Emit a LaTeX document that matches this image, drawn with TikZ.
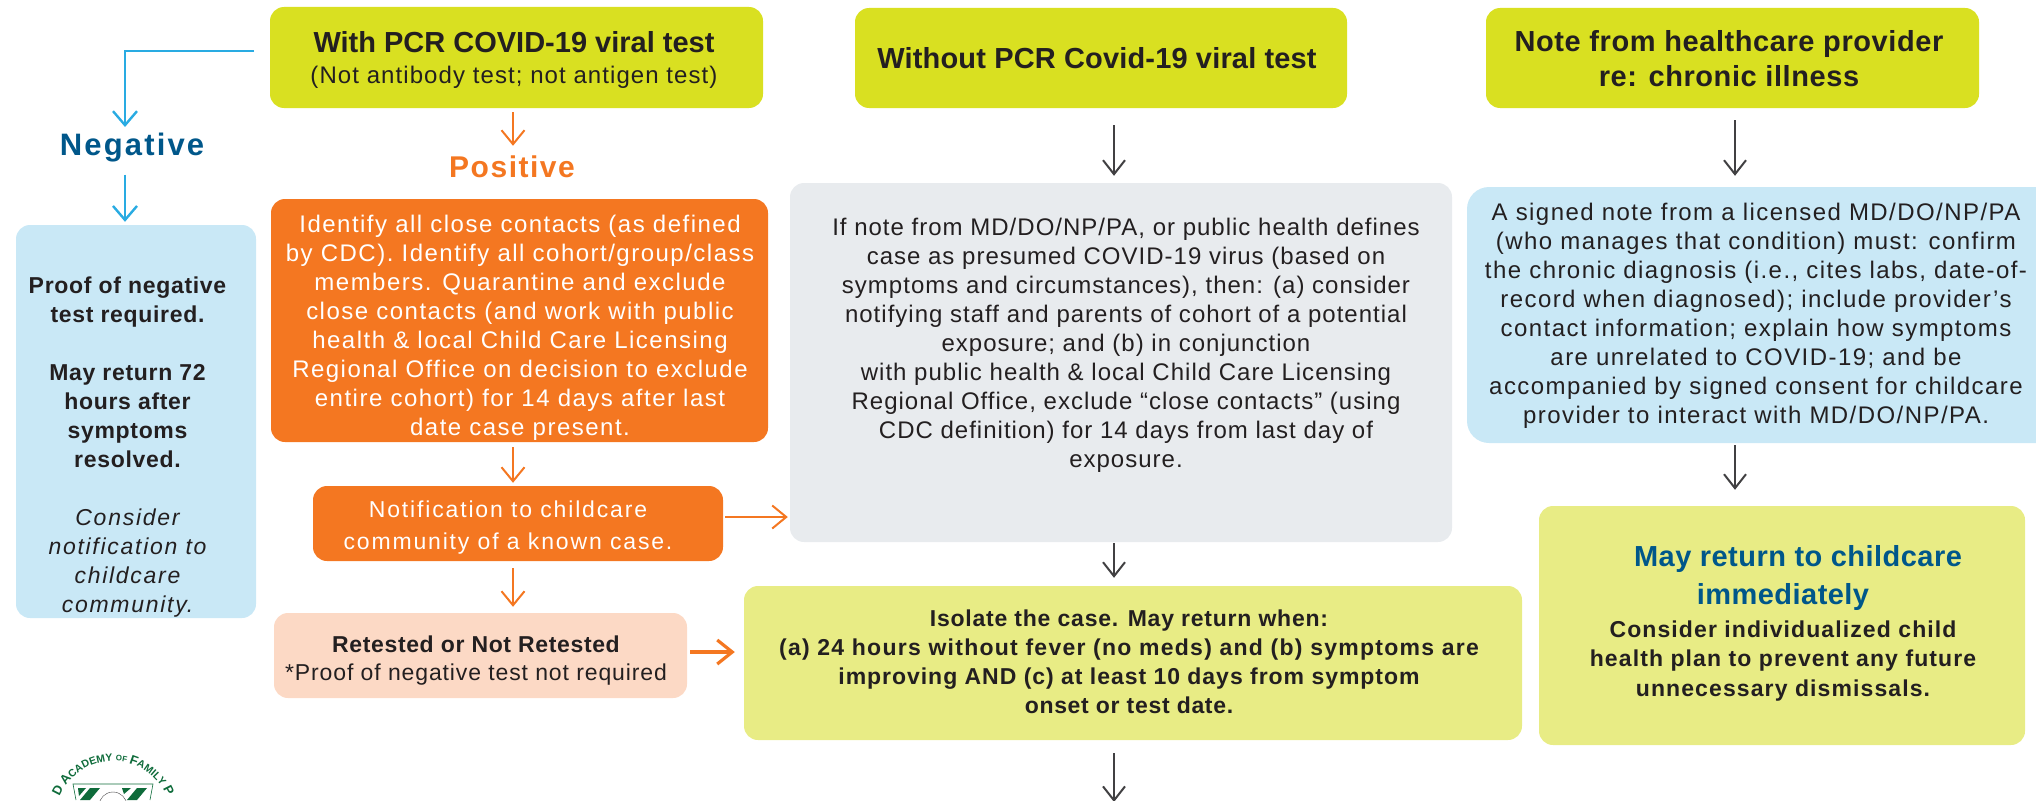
\documentclass[tikz,border=0pt]{standalone}
\usepackage{fontspec}
\setmainfont{Liberation Sans}
\usetikzlibrary{arrows.meta,decorations.text}
\definecolor{lime}{HTML}{D9E021}
\definecolor{palelime}{HTML}{E8EC85}
\definecolor{paleblue}{HTML}{C9E8F6}
\definecolor{palegrey}{HTML}{E8EBEE}
\definecolor{orng}{HTML}{F47721}
\definecolor{peach}{HTML}{FCD9C5}
\definecolor{ink}{HTML}{231F20}
\definecolor{arrowgrey}{HTML}{414042}
\definecolor{skyline}{HTML}{29ABE2}
\definecolor{navy}{HTML}{00578A}
\definecolor{logogreen}{HTML}{0E6B3A}
\newcommand{\fsz}[2]{\fontsize{#1}{#2}\selectfont}
\newcommand{\lsp}[1]{\addfontfeature{LetterSpace=#1}}
\newcommand{\sealA}{\fsz{13}{14}\bfseries\color{logogreen}}
\newcommand{\sealB}{\fsz{10.5}{12}\bfseries\color{logogreen}}
\newcommand{\sealC}{\fsz{8}{10}\bfseries\color{logogreen}}
\tikzset{
  panel/.style={rounded corners=14pt,inner sep=0pt,draw=none},
  txt/.style={inner sep=0pt,align=center,text=ink},
  body/.style={txt,font=\fsz{24}{29}\lsp{4.2}},
  boldbody/.style={txt,font=\fsz{23}{29}\bfseries\lsp{3}},
  head/.style={txt,font=\fsz{29}{35}\bfseries},
  darrow/.style={draw=arrowgrey,line width=2pt,-{Straight Barb[length=14pt,width=22pt,line width=2pt]}},
  oarrow/.style={draw=orng,line width=2pt,-{Straight Barb[length=14pt,width=23pt,line width=2pt]}},
  barrow/.style={draw=skyline,line width=2.4pt,-{Straight Barb[length=14pt,width=24pt,line width=2.4pt]}},
}
\begin{document}
\begin{tikzpicture}[x=1pt,y=-1pt]
\useasboundingbox (0,0) rectangle (2036,800);

% panels
\node[panel,fill=lime,minimum width=493pt,minimum height=101pt] (withpcr) at (516.5,57.5) {};
\node[panel,fill=lime,minimum width=492pt,minimum height=100pt] (nopcr) at (1101,58) {};
\node[panel,fill=lime,minimum width=493pt,minimum height=100pt] (note) at (1732.5,58) {};
\node[panel,fill=paleblue,minimum width=240pt,minimum height=393pt] (neg) at (136,421.5) {};
\node[panel,fill=orng,minimum width=497pt,minimum height=243pt] (pos) at (519.5,320.5) {};
\node[panel,fill=orng,minimum width=410pt,minimum height=75pt] (notif) at (518,523.5) {};
\node[panel,fill=peach,minimum width=413pt,minimum height=85pt] (retest) at (480.5,655.5) {};
\node[panel,fill=palegrey,minimum width=662pt,minimum height=359pt] (presumed) at (1121,362.5) {};
\node[panel,fill=palelime,minimum width=778pt,minimum height=154pt] (isolate) at (1133,663) {};
\node[panel,fill=paleblue,minimum width=600pt,minimum height=256pt,rounded corners=22pt] (signed) at (1767,315) {};
\node[panel,fill=palelime,minimum width=486pt,minimum height=239pt] (mayreturn) at (1782,625.5) {};

% panel texts
\node[txt,font=\fsz{24}{31}] (withpcrtxt) at (514,60) {{\fsz{29}{31}\bfseries With PCR COVID-19 viral test}\\{\lsp{4.5}(Not antibody test; not antigen test)}};
\node[head,font=\fsz{29}{35}\bfseries\lsp{0.6}] (nopcrtxt) at (1097,58) {Without PCR Covid-19 viral test};
\node[head,font=\fsz{29}{35}\bfseries\lsp{2}] (notetxt) at (1729,59) {Note from healthcare provider\\re: chronic illness};
\node[txt,font=\fsz{31}{36}\bfseries\lsp{7},text=navy] (neglabel) at (132,148) {Negative};
\node[txt,font=\fsz{30}{36}\bfseries\lsp{5},text=orng] (poslabel) at (512,167) {Positive};

\node[boldbody] (negtxt) at (127.5,372) {Proof of negative\\test required.\\[29pt]May return 72\\hours after\\symptoms\\resolved.};
\node[txt,font=\fsz{23}{29}\itshape\lsp{7.5}] (negtxtb) at (127.5,563) {Consider\\notification to\\childcare\\community.};
\node[body,text=white,font=\fsz{24}{29}\lsp{6.2}] (postxt) at (520,328) {Identify all close contacts (as defined\\by CDC). Identify all cohort/group/class\\members. Quarantine and exclude\\close contacts (and work with public\\health \& local Child Care Licensing\\Regional Office on decision to exclude\\entire cohort) for 14 days after last\\date case present.};
\node[body,text=white,font=\fsz{23}{32}\lsp{8}] (notiftxt) at (508,528) {Notification to childcare\\community of a known case.};
\node[txt,font=\fsz{23}{28}\lsp{3.8}] (retesttxt) at (476,661) {{\bfseries\lsp{2.8}Retested or Not Retested}\\*Proof of negative test not required};
\node[body] (presumedtxt) at (1126,345) {If note from MD/DO/NP/PA, or public health defines\\case as presumed COVID-19 virus (based on\\symptoms and circumstances), then: (a) consider\\notifying staff and parents of cohort of a potential\\exposure; and (b) in conjunction\\with public health \& local Child Care Licensing\\Regional Office, exclude “close contacts” (using\\CDC definition) for 14 days from last day of\\exposure.};
\node[boldbody,font=\fsz{23}{29}\bfseries\lsp{5.5}] (isolatetxt) at (1129,662) {{\lsp{3.3}Isolate the case. May return when:}\\(a) 24 hours without fever (no meds) and (b) symptoms are\\{\lsp{4.2}improving AND (c) at least 10 days from symptom}\\{\lsp{3}onset or test date.}};
\node[body,font=\fsz{24}{29}\lsp{6}] (signedtxt) at (1756,316) {A signed note from a licensed MD/DO/NP/PA\\(who manages that condition) must: confirm\\the chronic diagnosis (i.e., cites labs, date-of-\\record when diagnosed); include provider’s\\contact information; explain how symptoms\\are unrelated to COVID-19; and be\\accompanied by signed consent for childcare\\provider to interact with MD/DO/NP/PA.};
\node[txt,font=\fsz{29}{38}\bfseries\lsp{1.6},text=navy] (mayhead) at (1783,578) {\hspace*{30pt}May return to childcare\\immediately};
\node[boldbody,font=\fsz{23}{29.5}\bfseries\lsp{4.8}] (maytxt) at (1783,661) {Consider individualized child\\health plan to prevent any future\\unnecessary dismissals.};

% connector columns and free ends
\coordinate (coloA) at (513,0);
\coordinate (coldA) at (1114,0);
\coordinate (coldB) at (1735,0);
\coordinate (colbA) at (125,0);
\coordinate (blueStart) at (254,51);
\coordinate (negDrop) at (125,127);
\coordinate (rowNotif) at (0,517);
\coordinate (rowRetest) at (0,652);
\coordinate (pageEnd) at (1114,802);

% connectors
\draw[barrow] (blueStart) -| (negDrop);
\draw[barrow,shorten <=12pt,shorten >=3pt] (neglabel.south -| colbA) -- (neg.north -| colbA);
\draw[oarrow,shorten <=4pt,shorten >=10pt] (withpcr.south -| coloA) -- (poslabel.north -| coloA);
\draw[oarrow,shorten <=5pt,shorten >=3pt] (pos.south -| coloA) -- (notif.north -| coloA);
\draw[oarrow,shorten <=7pt,shorten >=6pt] (notif.south -| coloA) -- (retest.north -| coloA);
\draw[oarrow,shorten <=2pt,shorten >=2pt] (notif.east |- rowNotif) -- (presumed.west |- rowNotif);
\draw[draw=orng,line width=3.6pt,-{Straight Barb[length=15pt,width=24pt,line width=3.2pt]},shorten <=3pt,shorten >=9pt] (retest.east |- rowRetest) -- (isolate.west |- rowRetest);
\draw[darrow,shorten <=17pt,shorten >=7pt] (nopcr.south -| coldA) -- (presumed.north -| coldA);
\draw[darrow,shorten <=1pt,shorten >=8pt] (presumed.south -| coldA) -- (isolate.north -| coldA);
\draw[darrow,shorten <=13pt] (isolate.south -| coldA) -- (pageEnd);
\draw[darrow,shorten <=12pt,shorten >=11pt] (note.south -| coldB) -- (signed.north -| coldB);
\draw[darrow,shorten <=2pt,shorten >=16pt] (signed.south -| coldB) -- (mayreturn.north -| coldB);

% partial seal, cut by the lower edge of the page
\begin{scope}[shift={(113,819)},x=1pt,y=1pt]
  \path[postaction={decorate,decoration={text along path,text align=center,
      text={|\sealA|D A|\sealB|CADEMY |\sealC|OF |\sealA|F|\sealB|AMILY |\sealA|P}}}]
    (178:58pt) arc[start angle=178,end angle=2,radius=58pt];
\end{scope}
\draw[logogreen,line width=.6pt] (76,800) -- (73,784) -- (153,784) -- (150,800);
\fill[logogreen] (78,788) -- (86,788) -- (79,796) -- cycle;
\fill[logogreen] (100,788) -- (90,788) -- (80,800) -- (90,800) -- cycle;
\fill[logogreen] (122,788) -- (131,788) -- (124,794) -- cycle;
\fill[logogreen] (147,788) -- (137,788) -- (127,800) -- (137,800) -- cycle;
\draw[arrowgrey,line width=.4pt] (113,806) circle[radius=14pt];
\end{tikzpicture}
\end{document}
